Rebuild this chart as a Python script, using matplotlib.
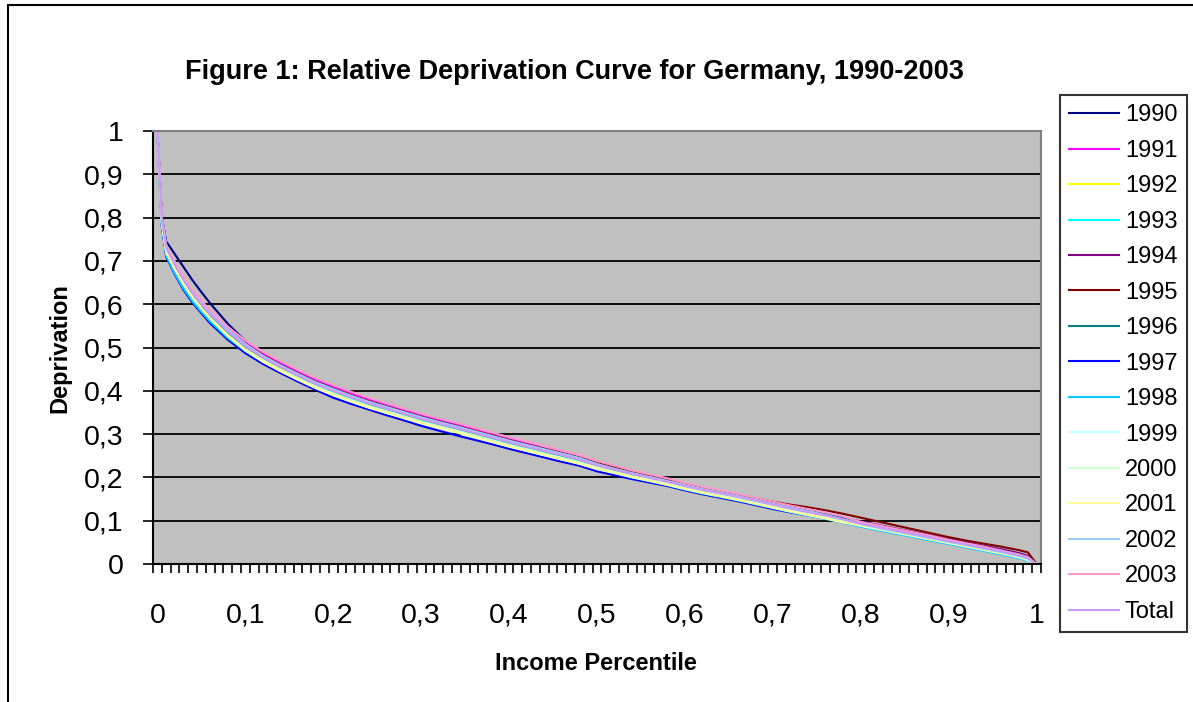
import numpy as np
import matplotlib
matplotlib.use('Agg')
import matplotlib.pyplot as plt
from matplotlib.patches import Rectangle
from matplotlib.ticker import FixedLocator

plt.rcParams['font.family'] = ['Liberation Sans', 'DejaVu Sans']

# percentiles de ingreso (eje x)
percentil = [0, 0.005, 0.01, 0.02, 0.03, 0.04, 0.05, 0.06, 0.08, 0.10,
             0.12, 0.14, 0.16, 0.18, 0.20, 0.22, 0.24, 0.26, 0.28, 0.30,
             0.32, 0.34, 0.36, 0.38, 0.40, 0.42, 0.44, 0.46, 0.48, 0.50,
             0.52, 0.54, 0.56, 0.58, 0.60, 0.62, 0.64, 0.66, 0.68, 0.70,
             0.72, 0.74, 0.76, 0.78, 0.80, 0.82, 0.84, 0.86, 0.88, 0.90,
             0.92, 0.94, 0.96, 0.98, 0.99, 1.00]

anios = ['1990', '1991', '1992', '1993', '1994', '1995', '1996', '1997',
         '1998', '1999', '2000', '2001', '2002', '2003', 'Total']

colores = ['#000080', '#FF00FF', '#FFFF00', '#00FFFF', '#800080', '#800000',
           '#008080', '#0000FF', '#00CCFF', '#CCFFFF', '#CCFFCC', '#FFFF99',
           '#99CCFF', '#FF99CC', '#CC99FF']

# curvas de privacion
d1990 = [1.0, 0.80, 0.745, 0.715, 0.685, 0.655, 0.628, 0.602, 0.555, 0.515,
         0.486, 0.462, 0.440, 0.421, 0.404, 0.390, 0.375, 0.363, 0.351, 0.339,
         0.327, 0.317, 0.306, 0.295, 0.283, 0.273, 0.262, 0.252, 0.242, 0.229,
         0.219, 0.209, 0.199, 0.190, 0.179, 0.170, 0.162, 0.154, 0.146, 0.137,
         0.128, 0.121, 0.113, 0.104, 0.095, 0.088, 0.080, 0.072, 0.064, 0.056,
         0.048, 0.040, 0.032, 0.023, 0.017, 0.0]
d1991 = [1.0, 0.80, 0.73, 0.69, 0.657, 0.628, 0.603, 0.581, 0.543, 0.511,
         0.486, 0.464, 0.444, 0.425, 0.409, 0.394, 0.380, 0.368, 0.356, 0.343,
         0.332, 0.322, 0.311, 0.299, 0.288, 0.278, 0.267, 0.257, 0.246, 0.233,
         0.222, 0.211, 0.202, 0.192, 0.182, 0.173, 0.164, 0.155, 0.145, 0.135,
         0.126, 0.117, 0.109, 0.100, 0.090, 0.082, 0.074, 0.066, 0.058, 0.050,
         0.042, 0.034, 0.026, 0.017, 0.011, 0.0]
d1992 = [1.0, 0.80, 0.735, 0.697, 0.662, 0.631, 0.604, 0.58, 0.538, 0.502,
         0.474, 0.451, 0.431, 0.412, 0.396, 0.381, 0.368, 0.356, 0.343, 0.331,
         0.320, 0.310, 0.299, 0.288, 0.277, 0.266, 0.256, 0.246, 0.236, 0.223,
         0.213, 0.203, 0.194, 0.185, 0.175, 0.166, 0.158, 0.150, 0.141, 0.132,
         0.123, 0.115, 0.107, 0.098, 0.088, 0.080, 0.072, 0.064, 0.056, 0.048,
         0.040, 0.032, 0.024, 0.015, 0.010, 0.0]
d1993 = [1.0, 0.79, 0.715, 0.673, 0.638, 0.608, 0.584, 0.562, 0.524, 0.492,
         0.468, 0.448, 0.429, 0.411, 0.395, 0.380, 0.366, 0.354, 0.342, 0.330,
         0.319, 0.309, 0.298, 0.287, 0.276, 0.266, 0.256, 0.246, 0.236, 0.224,
         0.215, 0.205, 0.196, 0.187, 0.177, 0.168, 0.160, 0.152, 0.143, 0.134,
         0.125, 0.116, 0.107, 0.098, 0.087, 0.079, 0.071, 0.063, 0.055, 0.047,
         0.039, 0.031, 0.023, 0.014, 0.009, 0.0]
d1994 = [1.0, 0.80, 0.73, 0.691, 0.656, 0.627, 0.602, 0.579, 0.539, 0.506,
         0.48, 0.458, 0.438, 0.419, 0.403, 0.388, 0.374, 0.362, 0.350, 0.338,
         0.327, 0.317, 0.306, 0.295, 0.284, 0.274, 0.264, 0.254, 0.244, 0.231,
         0.220, 0.210, 0.201, 0.192, 0.182, 0.173, 0.165, 0.157, 0.148, 0.139,
         0.131, 0.123, 0.116, 0.108, 0.098, 0.090, 0.082, 0.074, 0.066, 0.058,
         0.050, 0.042, 0.034, 0.025, 0.019, 0.0]
d1995 = [1.0, 0.80, 0.732, 0.693, 0.658, 0.628, 0.603, 0.58, 0.541, 0.508,
         0.482, 0.46, 0.44, 0.421, 0.405, 0.390, 0.376, 0.364, 0.352, 0.340,
         0.329, 0.319, 0.308, 0.297, 0.286, 0.276, 0.266, 0.256, 0.246, 0.233,
         0.223, 0.213, 0.204, 0.195, 0.185, 0.176, 0.168, 0.160, 0.152, 0.144,
         0.137, 0.131, 0.124, 0.116, 0.107, 0.098, 0.089, 0.080, 0.071, 0.062,
         0.054, 0.047, 0.040, 0.032, 0.027, 0.0]
d1996 = [1.0, 0.80, 0.727, 0.687, 0.652, 0.622, 0.597, 0.574, 0.535, 0.502,
         0.476, 0.455, 0.435, 0.416, 0.400, 0.385, 0.371, 0.359, 0.347, 0.335,
         0.324, 0.314, 0.303, 0.292, 0.281, 0.271, 0.261, 0.251, 0.241, 0.228,
         0.218, 0.208, 0.199, 0.190, 0.180, 0.171, 0.163, 0.155, 0.147, 0.138,
         0.130, 0.122, 0.114, 0.105, 0.095, 0.087, 0.079, 0.071, 0.063, 0.055,
         0.047, 0.039, 0.031, 0.022, 0.016, 0.0]
d1997 = [1.0, 0.78, 0.71, 0.668, 0.632, 0.603, 0.579, 0.556, 0.518, 0.487,
         0.462, 0.441, 0.421, 0.402, 0.384, 0.370, 0.357, 0.344, 0.332, 0.319,
         0.308, 0.297, 0.287, 0.277, 0.266, 0.256, 0.246, 0.236, 0.227, 0.214,
         0.205, 0.196, 0.188, 0.180, 0.170, 0.161, 0.153, 0.145, 0.136, 0.127,
         0.119, 0.112, 0.105, 0.097, 0.088, 0.080, 0.072, 0.064, 0.056, 0.048,
         0.040, 0.033, 0.025, 0.016, 0.010, 0.0]
d1998 = [1.0, 0.78, 0.712, 0.67, 0.635, 0.606, 0.582, 0.56, 0.522, 0.492,
         0.467, 0.447, 0.427, 0.408, 0.392, 0.377, 0.363, 0.351, 0.339, 0.327,
         0.316, 0.306, 0.295, 0.284, 0.273, 0.263, 0.253, 0.243, 0.233, 0.220,
         0.210, 0.200, 0.191, 0.182, 0.172, 0.163, 0.155, 0.147, 0.138, 0.129,
         0.120, 0.112, 0.104, 0.095, 0.086, 0.078, 0.070, 0.062, 0.054, 0.046,
         0.038, 0.030, 0.022, 0.013, 0.008, 0.0]
d1999 = [1.0, 0.79, 0.72, 0.68, 0.645, 0.615, 0.59, 0.567, 0.527, 0.493,
         0.467, 0.445, 0.425, 0.406, 0.390, 0.375, 0.361, 0.349, 0.337, 0.325,
         0.314, 0.304, 0.293, 0.282, 0.271, 0.261, 0.251, 0.241, 0.231, 0.219,
         0.210, 0.200, 0.192, 0.183, 0.174, 0.165, 0.157, 0.149, 0.140, 0.131,
         0.122, 0.114, 0.106, 0.097, 0.088, 0.080, 0.072, 0.064, 0.056, 0.048,
         0.040, 0.032, 0.024, 0.015, 0.009, 0.0]
d2000 = [1.0, 0.79, 0.722, 0.682, 0.647, 0.617, 0.592, 0.569, 0.529, 0.496,
         0.471, 0.449, 0.429, 0.410, 0.394, 0.379, 0.365, 0.353, 0.341, 0.329,
         0.318, 0.308, 0.297, 0.286, 0.275, 0.265, 0.255, 0.245, 0.235, 0.223,
         0.213, 0.203, 0.195, 0.186, 0.176, 0.167, 0.159, 0.151, 0.142, 0.133,
         0.124, 0.116, 0.108, 0.099, 0.090, 0.082, 0.074, 0.066, 0.058, 0.050,
         0.042, 0.034, 0.026, 0.017, 0.011, 0.0]
d2001 = [1.0, 0.79, 0.72, 0.68, 0.645, 0.615, 0.59, 0.567, 0.527, 0.494,
         0.468, 0.446, 0.426, 0.407, 0.391, 0.376, 0.362, 0.350, 0.338, 0.326,
         0.315, 0.305, 0.294, 0.283, 0.272, 0.262, 0.252, 0.242, 0.232, 0.221,
         0.211, 0.201, 0.192, 0.183, 0.173, 0.164, 0.156, 0.148, 0.139, 0.130,
         0.121, 0.113, 0.105, 0.096, 0.089, 0.081, 0.073, 0.065, 0.057, 0.049,
         0.041, 0.033, 0.025, 0.016, 0.010, 0.0]
d2002 = [1.0, 0.80, 0.736, 0.696, 0.661, 0.63, 0.605, 0.582, 0.542, 0.508,
         0.481, 0.459, 0.439, 0.420, 0.404, 0.389, 0.375, 0.363, 0.351, 0.339,
         0.328, 0.318, 0.307, 0.296, 0.285, 0.275, 0.265, 0.255, 0.245, 0.231,
         0.220, 0.210, 0.201, 0.192, 0.182, 0.173, 0.165, 0.157, 0.148, 0.139,
         0.130, 0.122, 0.113, 0.103, 0.092, 0.083, 0.075, 0.067, 0.059, 0.051,
         0.043, 0.035, 0.027, 0.018, 0.012, 0.0]
d2003 = [1.0, 0.80, 0.735, 0.696, 0.662, 0.632, 0.608, 0.586, 0.548, 0.516,
         0.49, 0.468, 0.448, 0.429, 0.413, 0.398, 0.384, 0.371, 0.359, 0.347,
         0.336, 0.326, 0.315, 0.304, 0.293, 0.283, 0.273, 0.262, 0.252, 0.238,
         0.227, 0.216, 0.207, 0.198, 0.187, 0.178, 0.170, 0.162, 0.153, 0.144,
         0.135, 0.127, 0.119, 0.110, 0.097, 0.089, 0.081, 0.073, 0.065, 0.056,
         0.048, 0.040, 0.031, 0.022, 0.016, 0.0]
dtotal = [1.0, 0.80, 0.73, 0.69, 0.655, 0.625, 0.60, 0.577, 0.537, 0.503,
          0.477, 0.455, 0.435, 0.416, 0.400, 0.385, 0.371, 0.359, 0.347, 0.335,
          0.324, 0.314, 0.303, 0.292, 0.281, 0.271, 0.261, 0.251, 0.241, 0.228,
          0.218, 0.208, 0.199, 0.190, 0.180, 0.171, 0.163, 0.155, 0.146, 0.137,
          0.128, 0.120, 0.112, 0.103, 0.093, 0.085, 0.077, 0.069, 0.061, 0.053,
          0.045, 0.037, 0.029, 0.020, 0.014, 0.0]

series = [d1990, d1991, d1992, d1993, d1994, d1995, d1996, d1997,
          d1998, d1999, d2000, d2001, d2002, d2003, dtotal]

etiquetas_y = ['0', '0,1', '0,2', '0,3', '0,4', '0,5', '0,6', '0,7', '0,8', '0,9', '1']
etiquetas_x = ['0', '0,1', '0,2', '0,3', '0,4', '0,5', '0,6', '0,7', '0,8', '0,9', '1']

W, H = 1193, 702
fig = plt.figure(figsize=(W / 100, H / 100), dpi=100)
ax = fig.add_axes([153 / W, 1 - 564 / H, 888 / W, 433 / H])
ax.set_facecolor('#C0C0C0')

for nombre, valores, color in zip(anios, series, colores):
    ax.plot(percentil, valores, color=color, lw=1.5, label=nombre)

ax.set_xlim(-0.005, 1.005)
ax.set_ylim(0, 1)

ax.set_yticks(np.linspace(0, 1, 11))
ax.set_yticklabels(etiquetas_y)
ax.set_xticks(np.linspace(0, 1, 11))
ax.set_xticklabels(etiquetas_x)
ax.xaxis.set_minor_locator(FixedLocator(-0.005 + 0.01 * np.arange(102)))

ax.tick_params(axis='x', which='major', length=0, pad=28, labelsize=20.5)
ax.tick_params(axis='x', which='minor', length=6.5, width=1.2, direction='out')
ax.tick_params(axis='y', which='major', length=7, width=1.2, pad=14, labelsize=20.5)

ax.yaxis.grid(True, color='black', lw=1.3)
ax.set_axisbelow(True)

for lado in ['top', 'right']:
    ax.spines[lado].set_color('#808080')
    ax.spines[lado].set_linewidth(1.5)
for lado in ['left', 'bottom']:
    ax.spines[lado].set_linewidth(1.5)

ax.set_xlabel('Income Percentile', fontsize=17, fontweight='bold', va='center')
ax.xaxis.set_label_coords(0.499, -0.229)
ax.set_ylabel('Deprivation', fontsize=17, fontweight='bold', va='center')
ax.yaxis.set_label_coords(-0.105, 0.499)

fig.text(574 / W, 1 - 72 / H, 'Figure 1: Relative Deprivation Curve for Germany, 1990-2003',
         fontsize=19.5, fontweight='bold', ha='center', va='center')

leg = fig.legend(loc='upper left', bbox_to_anchor=(1060 / W, 1 - 95 / H),
                 fontsize=17, frameon=True, fancybox=False, edgecolor='black',
                 handlelength=2.1, handletextpad=0.25, labelspacing=0.57,
                 borderpad=0.4, borderaxespad=0)
leg.get_frame().set_linewidth(1.5)

# marco exterior del grafico
fig.patches.append(Rectangle((8 / W, -0.1), 1.2, 1.1 - 5 / H, transform=fig.transFigure,
                             fill=False, edgecolor='black', lw=1.5))

fig.savefig('out.png', dpi=100)
